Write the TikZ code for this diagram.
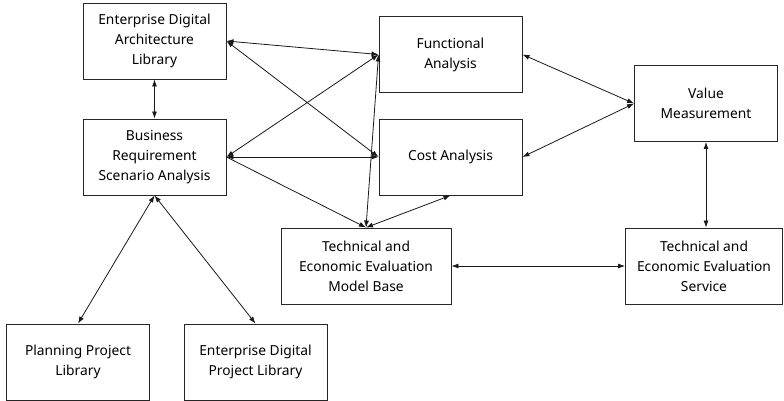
\documentclass[tikz,border=0pt]{standalone}
\usepackage{fontspec}
\setmainfont{Noto Sans}
\usetikzlibrary{arrows.meta,positioning}

\begin{document}
\begin{tikzpicture}[
      x=1pt, y=-1pt,
      box/.style={draw=black!85, line width=0.9pt, minimum width=143pt, minimum height=76pt, align=center, font=\fontsize{13.8}{20}\selectfont, inner sep=2pt},
      wide/.style={box, minimum width=170pt},
      arr/.style={{Latex[length=7pt,width=5pt]}-{Latex[length=7pt,width=5pt]}, line width=0.8pt, black!90},
      one/.style={-{Latex[length=7pt,width=5pt]}, line width=0.8pt, black!90}
    ]
    \useasboundingbox (0,0) rectangle (784,401);

    % left column
    \node[box]  (arch)  at (154.5,41)  {Enterprise Digital\\Architecture\\Library};
    \node[box]  (req)   at (154.5,157) {Business\\Requirement\\Scenario Analysis};
    \node[box]  (plan)  at (78,362)    {Planning Project\\Library};
    \node[box]  (proj)  at (255.5,362) {Enterprise Digital\\Project Library};

    % analysis in the middle
    \node[box]  (func)  at (450.5,54.5) {Functional\\Analysis};
    \node[box]  (cost)  at (450.5,157)  {Cost Analysis};
    \node[wide] (model) at (366,266)    {Technical and\\Economic Evaluation\\Model Base};

    % right side
    \node[box]  (value) at (706,103.5) {Value\\Measurement};
    \node[box, minimum width=157pt] (serv) at (704,266) {Technical and\\Economic Evaluation\\Service};

    \draw[arr] (arch) -- (req);
    \draw[arr] (arch.east) -- (func.west);
    \draw[arr] (arch.east) -- (cost.west);
    \draw[arr] (req.east) -- (func.west);
    \draw[arr] (req.east) -- (cost.west);
    \draw[one] (req.east) -- (model.north);
    \draw[arr] (func.west) -- (model.north);
    \draw[arr] (model.north) -- (cost.south);

    \draw[arr] (func.east) -- (value.west);
    \draw[arr] (cost.east) -- (value.west);
    \draw[arr] (value.south) -- (value.south |- serv.north);
    \draw[arr] (model.east) -- (serv.west);

    \draw[arr] (req.south) -- (plan.north);
    \draw[arr] (req.south) -- (proj.north);
  \end{tikzpicture}
\end{document}
